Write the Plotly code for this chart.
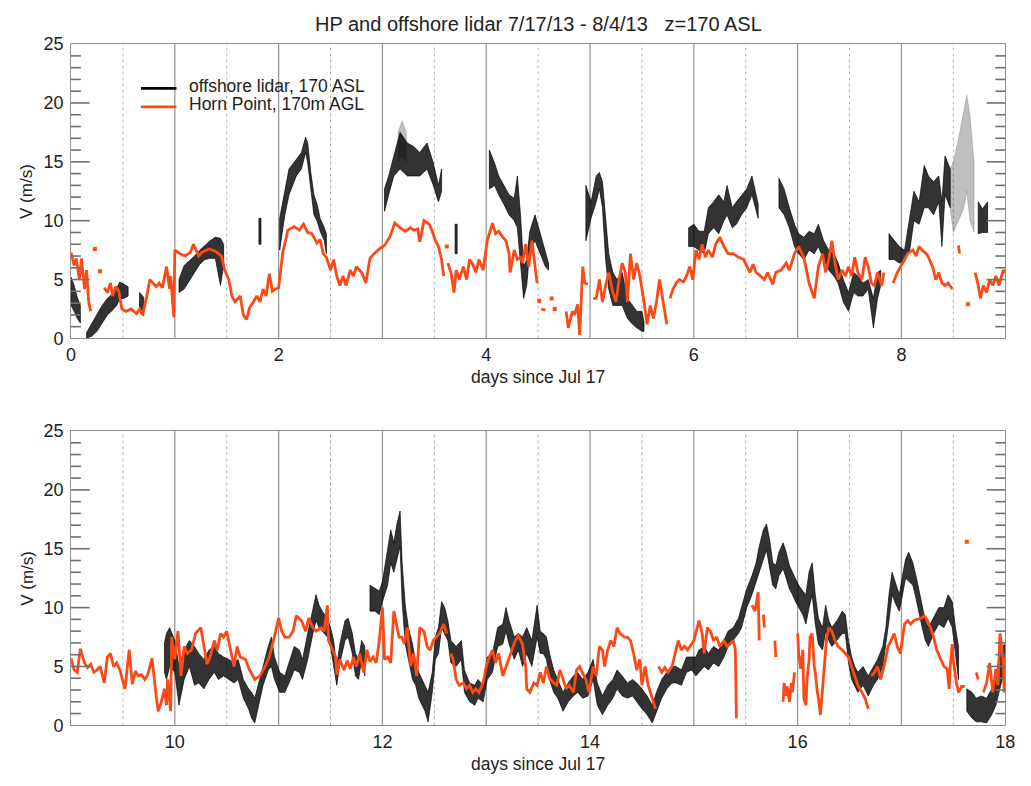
import plotly.graph_objects as go

# ---------------- Horn Point (170 m AGL), None = gap ----------------
hp_top_t = [
    0.00, 0.03, 0.05, 0.08, 0.10, 0.13, 0.15, 0.17, 0.19, None,
    0.32, 0.35, 0.38, 0.40, 0.43, 0.46, 0.49, 0.53, 0.58, 0.63,
    0.66, 0.69, 0.73, 0.76, 0.79, 0.82, 0.85, 0.88, 0.92, 0.95,
    0.96, 0.99, 1.00, 1.05, 1.10, 1.15, 1.18, 1.23, 1.26, 1.33,
    1.39, 1.45, 1.48, 1.52, 1.55, 1.58, 1.63, 1.66, 1.69, 1.72,
    1.75, 1.79, 1.82, 1.85, 1.88, 1.91, 1.94, 1.97, 2.00, 2.04,
    2.09, 2.15, 2.20, 2.24, 2.28, 2.32, 2.37, 2.40, 2.43, 2.46,
    2.50, 2.53, 2.56, 2.59, 2.62, 2.65, 2.69, 2.72, 2.75, 2.80,
    2.84, 2.88, 2.92, 2.97, 3.02, 3.07, 3.12, 3.17, 3.22, 3.27,
    3.30, 3.34, 3.36, 3.40, 3.45, 3.48, 3.51, 3.54, 3.57, 3.59, None,
    3.63, 3.66, 3.69, 3.71, 3.74, 3.78, 3.81, 3.84, 3.87, 3.90,
    3.93, 3.97, 4.01, 4.06, 4.09, 4.12, 4.16, 4.19, 4.22, 4.23,
    4.27, 4.30, 4.33, 4.35, 4.38, 4.41, 4.44, 4.47, 4.49, None,
    4.53, 4.57, None,
    4.77, 4.79, 4.83, 4.85, 4.88, 4.90, 4.93, 4.95, 4.98, None,
    5.03, 5.06, 5.09, 5.12, 5.15, 5.18, 5.22, 5.25, 5.28, 5.31,
    5.34, 5.36, 5.39, 5.42, 5.45, 5.48, 5.52, 5.55, 5.58, 5.61,
    5.64, 5.67, 5.71, 5.74, None,
    5.77, 5.80, 5.83, 5.86, 5.90, 5.93, 5.96, 5.99, 6.02, 6.05,
    6.08, 6.11, 6.14, 6.18, 6.21, 6.25, 6.29, 6.33, 6.38, 6.43,
    6.48, 6.51, 6.54, 6.57, 6.60, 6.63, 6.68, 6.71, 6.76, 6.79,
    6.84, 6.89, 6.92, 6.97, 7.01, 7.06, 7.11, 7.16, 7.20, 7.24,
    7.27, 7.30, 7.33, 7.36, 7.39, 7.43, 7.46, 7.49, 7.52, 7.55,
    7.58, 7.62, 7.65, 7.68, 7.71, 7.74, 7.77, 7.81, 7.83, None,
    7.92, 7.96, 8.01, 8.06, 8.11, 8.14, 8.17, 8.20, 8.25, 8.30,
    8.33, 8.36, 8.39, 8.42, 8.45, 8.49, None,
    8.55, 8.56, None,
    8.71, 8.74, 8.76, 8.79, 8.82, 8.85, 8.88, 8.91, 8.94, 8.98, 9.00,
]
hp_top_v = [
    7.3, 6.2, 6.8, 5.0, 6.8, 4.2, 5.8, 3.1, 2.3, None,
    4.3, 3.9, 4.7, 3.6, 4.4, 4.0, 2.5, 2.3, 2.5, 2.1,
    2.5, 2.0, 3.6, 5.0, 4.7, 4.4, 4.7, 4.3, 6.1, 4.2,
    5.3, 1.8, 7.5, 7.2, 7.0, 7.3, 8.0, 7.0, 7.3, 7.6,
    7.4, 7.0, 5.8, 5.0, 3.6, 3.1, 3.6, 2.0, 1.6, 2.6,
    3.0, 3.6, 3.1, 4.2, 3.6, 5.5, 4.0, 4.2, 4.3, 7.3,
    9.2, 9.5, 9.2, 9.7, 9.0, 8.9, 8.1, 8.4, 7.2, 6.9,
    5.8, 6.7, 5.3, 4.5, 5.3, 4.5, 5.8, 5.3, 6.1, 5.6,
    4.7, 6.8, 7.2, 7.6, 7.9, 8.6, 9.8, 9.4, 9.1, 9.4,
    9.2, 9.3, 8.2, 10.0, 9.7, 9.1, 8.3, 7.8, 6.7, 5.3, None,
    6.4, 5.6, 3.9, 5.8, 5.0, 6.1, 5.0, 6.7, 6.3, 5.6,
    6.7, 5.8, 8.3, 9.8, 8.9, 9.1, 8.6, 8.3, 7.2, 5.6,
    7.5, 6.7, 6.9, 6.4, 8.0, 6.1, 8.3, 5.8, 4.7, None,
    2.5, 2.4, None,
    2.3, 0.9, 2.3, 2.0, 2.9, 0.3, 6.1, 4.7, 4.6, None,
    3.4, 3.4, 5.0, 3.1, 4.5, 5.6, 3.9, 3.1, 5.0, 6.4,
    5.6, 3.1, 7.2, 5.0, 6.4, 5.3, 3.1, 1.2, 2.8, 1.7,
    3.1, 5.0, 2.8, 1.2, None,
    3.4, 4.2, 4.7, 5.0, 4.8, 5.3, 6.1, 5.0, 7.5, 6.7,
    8.0, 6.9, 7.5, 6.9, 8.0, 8.6, 7.8, 7.2, 7.2, 6.9,
    6.7, 6.1, 5.6, 6.3, 5.6, 5.4, 5.0, 5.6, 4.6, 5.6,
    5.8, 6.4, 5.8, 7.2, 7.8, 6.9, 4.7, 3.4, 6.1, 7.2,
    5.6, 6.7, 8.3, 6.4, 5.0, 5.8, 5.3, 6.1, 5.3, 6.9,
    5.6, 5.0, 6.9, 6.1, 4.7, 4.5, 5.6, 4.5, 5.6, None,
    4.7, 5.6, 6.4, 7.2, 7.5, 7.0, 7.8, 7.5, 7.1, 6.1,
    5.0, 5.6, 4.7, 4.5, 4.7, 4.2, None,
    7.9, 7.2, None,
    5.6, 4.5, 3.4, 4.5, 3.9, 5.0, 4.5, 5.3, 4.5, 5.8, 5.6,
]
hp_top_dot_t = [0.23, 0.28, 3.62, 4.51, 4.63, 4.66, 8.64]
hp_top_dot_v = [7.6, 5.7, 7.8, 3.2, 3.4, 2.5, 2.9]

hp_bot_t = [
    9.00, 9.03, 9.06, 9.09, 9.13, 9.16, 9.19, 9.22, 9.25, 9.28,
    9.32, 9.35, 9.38, 9.41, 9.44, 9.47, 9.52, 9.56, 9.59, 9.62,
    9.65, 9.68, 9.71, 9.74, 9.78, 9.80, 9.82, 9.84, 9.87, 9.90,
    9.92, 9.93, 9.96, 9.97, 10.00, 10.03, 10.06, 10.09, 10.12, 10.16,
    10.20, 10.25, 10.28, 10.31, 10.34, 10.38, 10.41, 10.44, 10.47, 10.50,
    10.53, 10.57, 10.60, 10.63, 10.68, 10.72, 10.77, 10.82, 10.87, 10.91,
    10.95, 10.98, 11.00, 11.03, 11.06, 11.10, 11.14, 11.17, 11.22, 11.26,
    11.29, 11.33, 11.36, 11.41, 11.44, 11.47, 11.48, 11.52, 11.55, 11.56,
    11.59, 11.63, 11.66, 11.69, 11.72, 11.75, 11.78, 11.82, 11.85, 11.88,
    11.91, 11.94, 11.97, 12.00, 12.02, 12.05, 12.08, 12.11, 12.14, 12.16,
    12.19, 12.21, 12.24, 12.27, 12.30, 12.33, 12.36, 12.40, 12.43, 12.46,
    12.49, 12.52, 12.55, 12.59, 12.62, None,
    12.66, 12.68, 12.71, 12.74, 12.78, 12.81, 12.84, 12.87, 12.90, 12.93,
    12.97, 13.00, 13.03, 13.06, 13.09, 13.12, 13.16, 13.19, 13.22, 13.25,
    13.28, 13.31, 13.35, 13.38, 13.39, 13.42, 13.46, 13.49, 13.52, 13.55,
    13.58, 13.61, 13.65, 13.68, 13.71, 13.74, 13.77, 13.80, 13.84, 13.87,
    13.90, 13.93, 13.96, 13.99, 14.03, 14.06, 14.09, 14.12, 14.14, 14.17,
    14.20, 14.23, 14.26, 14.29, 14.33, 14.36, 14.39, 14.42, 14.45, 14.48,
    14.50, 14.53, 14.56, 14.60, 14.63, None,
    14.66, 14.69, 14.72, 14.75, 14.79, 14.82, 14.85, 14.88, 14.91, 14.94,
    14.98, 15.00, 15.05, 15.08, 15.10, 15.13, 15.16, 15.19, 15.22, 15.25,
    15.29, 15.32, 15.35, 15.38, 15.40, 15.41, None,
    15.56, 15.59, 15.62, 15.63, None,
    15.67, 15.68, None,
    15.78, 15.79, None,
    15.86, 15.87, 15.89, 15.90, 15.92, 15.94, 15.95, 15.97, None,
    16.00, 16.01, 16.03, 16.05, 16.06, 16.08, 16.09, 16.11, 16.12, 16.14,
    16.16, 16.17, 16.19, 16.20, 16.22, 16.24, 16.25, 16.27, 16.28, 16.30,
    16.33, 16.36, 16.39, 16.43, 16.46, 16.49, 16.52, 16.55, 16.58, 16.62,
    16.65, 16.68, None,
    16.71, 16.74, 16.77, 16.80, 16.84, 16.87, 16.90, 16.93, 16.96, 16.99,
    17.03, 17.06, 17.09, 17.12, 17.15, 17.19, 17.22, 17.25, 17.28, 17.31,
    17.34, 17.37, 17.41, 17.44, 17.46, 17.47, 17.49, 17.50, 17.53, 17.55,
    17.58, 17.61, None,
    17.72, 17.74, None,
    17.79, 17.82, 17.85, 17.87, 17.88, 17.91, 17.93, 17.95, 17.98, 17.99, 18.00,
]
hp_bot_v = [
    5.7, 4.7, 4.5, 6.5, 5.3, 4.9, 5.2, 4.5, 4.7, 5.0,
    3.6, 5.8, 6.1, 5.0, 5.3, 4.7, 3.1, 6.4, 3.5, 4.6,
    4.2, 4.3, 3.9, 4.3, 5.7, 3.9, 2.5, 1.2, 2.0, 3.1,
    1.7, 3.9, 1.2, 7.5, 5.6, 8.0, 4.2, 6.7, 6.1, 6.4,
    7.8, 8.3, 6.9, 5.2, 5.8, 7.2, 6.4, 7.8, 7.5, 8.0,
    6.7, 5.0, 6.7, 5.8, 5.6, 4.7, 3.9, 4.2, 5.0, 5.8,
    7.2, 8.3, 9.1, 8.0, 7.5, 7.5, 8.0, 9.3, 8.9, 8.0,
    9.1, 8.3, 8.0, 8.3, 8.0, 10.2, 7.2, 6.4, 5.8, 4.3,
    5.6, 4.7, 5.5, 4.8, 5.8, 5.0, 6.1, 4.5, 6.4, 5.4,
    5.8, 5.3, 7.2, 10.0, 5.6, 5.8, 5.3, 9.7, 8.3, 7.5,
    7.5, 6.9, 8.3, 5.0, 6.1, 4.2, 8.3, 8.0, 6.7, 6.4,
    7.2, 7.5, 7.8, 8.6, 7.8, None,
    6.1, 5.6, 3.9, 3.4, 3.6, 3.1, 3.4, 2.8, 3.1, 2.8,
    3.6, 5.0, 5.8, 6.4, 5.3, 6.1, 4.2, 5.0, 5.6, 6.4,
    7.2, 7.6, 6.9, 5.0, 3.1, 2.8, 3.6, 3.4, 4.5, 3.6,
    5.0, 4.0, 3.6, 3.4, 4.7, 3.9, 3.1, 3.4, 2.8, 4.7,
    5.0, 4.4, 3.9, 2.8, 5.0, 4.2, 6.7, 6.4, 5.0, 6.4,
    7.2, 6.7, 8.3, 7.8, 7.5, 7.5, 7.2, 6.1, 4.7, 5.6,
    3.4, 5.0, 3.4, 2.3, 1.4, None,
    5.0, 4.5, 4.9, 4.5, 5.0, 6.1, 7.2, 6.4, 6.7, 6.4,
    6.9, 7.2, 8.9, 7.8, 6.1, 8.3, 8.0, 7.2, 7.5, 6.7,
    7.2, 6.7, 6.9, 7.2, 6.4, 0.6, None,
    10.2, 9.7, 11.3, 7.2, None,
    9.4, 8.3, None,
    7.2, 5.8, None,
    2.0, 3.6, 2.5, 3.3, 2.0, 3.6, 2.8, 4.5, None,
    7.8, 6.1, 4.8, 6.4, 2.3, 1.7, 3.9, 5.5, 7.5, 7.8,
    5.0, 4.5, 2.8, 2.3, 0.9, 3.1, 3.9, 6.1, 7.5, 8.3,
    8.0, 7.2, 6.7, 6.4, 6.1, 5.8, 5.0, 4.2, 3.4, 2.8,
    2.3, 1.4, None,
    4.2, 4.5, 5.0, 3.9, 5.3, 6.7, 7.2, 7.8, 6.7, 6.1,
    8.6, 8.9, 8.6, 8.9, 9.0, 9.1, 9.3, 8.9, 8.3, 7.5,
    6.4, 5.8, 5.0, 4.8, 3.1, 5.0, 6.9, 5.5, 3.6, 2.8,
    3.3, 3.3, None,
    4.5, 3.9, None,
    2.8, 3.6, 5.3, 3.9, 2.8, 4.8, 3.4, 7.8, 5.6, 2.8, 5.8,
]
hp_bot_dot_t = [17.63]
hp_bot_dot_v = [15.6]

# ---------------- offshore lidar (170 ASL): dense point cloud, low / high envelope ----------------
lid_top_t = [
    0.00, 0.03, 0.06, 0.09, None,
    0.15, 0.20, 0.25, 0.30, 0.35, 0.40, 0.44, 0.47, 0.51, 0.55, None,
    0.66, 0.70, None,
    1.04, 1.09, 1.14, 1.19, 1.24, 1.29, 1.34, 1.39, 1.44, 1.47, None,
    1.81, 1.83, None,
    2.01, 2.06, 2.10, 2.17, 2.22, 2.26, 2.28, 2.31, 2.34, 2.37, 2.40, 2.44, 2.46, None,
    3.02, 3.06, 3.11, 3.17, 3.24, 3.30, 3.36, 3.43, 3.49, 3.54, 3.57, None,
    3.70, 3.72, None,
    4.03, 4.08, 4.12, 4.17, 4.22, 4.27, 4.30, 4.33, 4.36, 4.39, 4.42, 4.47, 4.52, 4.57, 4.60, None,
    4.96, 5.01, 5.06, 5.09, 5.12, 5.15, 5.18, 5.22, 5.26, 5.31, 5.36, 5.41, 5.45, 5.50, 5.52, None,
    5.95, 6.00, 6.05, 6.10, 6.14, 6.19, 6.24, 6.29, 6.32, 6.37, 6.41, 6.46, 6.51, 6.56, 6.59, 6.62, None,
    6.82, 6.87, 6.92, 6.97, 7.01, 7.06, 7.11, 7.16, 7.20, 7.25, 7.30, 7.35, 7.39, 7.44, 7.49,
    7.54, 7.58, 7.63, 7.68, 7.73, 7.77, 7.80, None,
    7.88, 7.93, 7.98, 8.03, 8.08, 8.12, 8.17, 8.22, 8.26, 8.31, 8.36, 8.39, 8.42, 8.47, None,
    8.74, 8.78, 8.83,
]
lid_top_lo = [
    2.8, 2.3, 1.7, 1.3, None,
    0.0, 0.2, 0.6, 1.3, 2.0, 2.4, 2.8, 3.4, 3.4, 3.6, None,
    2.3, 1.9, None,
    3.9, 4.2, 5.0, 5.6, 6.3, 6.7, 6.8, 6.8, 4.5, 6.2, None,
    8.0, 8.0, None,
    7.5, 10.5, 12.2, 13.8, 14.4, 15.8, 14.9, 12.7, 10.5, 10.0, 9.1, 8.3, 7.2, None,
    10.8, 12.2, 13.8, 14.4, 13.8, 13.8, 13.8, 14.4, 13.0, 11.6, 12.5, None,
    7.2, 7.2, None,
    12.7, 13.0, 12.2, 11.4, 10.5, 10.0, 9.4, 6.7, 3.4, 4.5, 7.5, 8.3, 7.2, 6.1, 5.8, None,
    8.3, 10.2, 11.6, 12.7, 11.1, 6.7, 4.2, 2.8, 2.8, 2.8, 1.7, 1.2, 0.9, 0.6, 0.6, None,
    7.8, 7.8, 7.5, 7.2, 8.9, 9.4, 8.9, 10.0, 10.5, 9.4, 9.7, 10.5, 11.1, 12.2, 11.1, 10.2, None,
    11.1, 10.5, 9.4, 7.8, 7.2, 6.7, 7.5, 7.2, 7.8, 6.7, 5.8, 5.3, 4.7, 3.1, 2.3,
    3.9, 3.6, 3.6, 4.2, 0.9, 3.4, 4.5, None,
    6.7, 6.7, 6.4, 6.5, 7.5, 10.0, 9.7, 11.1, 11.1, 10.5, 11.6, 7.8, 12.2, 11.1, None,
    8.9, 9.0, 9.0,
]
lid_top_hi = [
    5.2, 4.5, 3.5, 2.8, None,
    0.5, 1.3, 2.0, 2.8, 3.4, 3.8, 4.3, 4.8, 4.6, 4.4, None,
    3.9, 3.5, None,
    5.0, 6.2, 6.6, 7.0, 7.5, 7.9, 8.3, 8.6, 8.5, 8.0, None,
    10.2, 10.2, None,
    10.2, 12.7, 14.4, 15.2, 15.8, 17.1, 16.6, 14.1, 12.2, 11.4, 10.2, 9.4, 8.9, None,
    12.7, 13.8, 15.5, 17.5, 16.6, 16.3, 15.8, 16.6, 14.9, 13.0, 14.4, None,
    9.7, 9.7, None,
    16.0, 14.9, 13.8, 13.0, 12.2, 11.9, 13.8, 10.5, 6.1, 6.7, 9.1, 10.5, 8.9, 7.2, 6.4, None,
    13.0, 11.6, 13.8, 14.1, 13.3, 10.5, 7.2, 5.6, 5.0, 5.6, 3.4, 2.8, 2.3, 2.3, 1.4, None,
    9.4, 9.7, 9.1, 9.1, 11.1, 11.6, 12.2, 11.6, 13.0, 11.1, 11.6, 12.2, 12.7, 13.8, 12.7, 11.4, None,
    13.6, 12.7, 11.1, 9.7, 8.9, 8.6, 9.1, 8.9, 9.7, 8.3, 7.5, 7.2, 6.4, 5.0, 3.9,
    5.6, 5.3, 4.7, 5.0, 3.4, 5.6, 5.8, None,
    8.9, 8.3, 7.8, 7.5, 10.5, 12.5, 11.6, 14.7, 13.8, 13.3, 13.8, 11.6, 15.5, 14.4, None,
    11.6, 11.0, 11.6,
]
# scattered (sparse) lidar returns
lid_top_sp_t = [3.15, 3.19, 3.23, None, 8.47, 8.50, 8.55, 8.60, 8.63, 8.66, 8.70]
lid_top_sp_lo = [15.0, 15.5, 15.0, None, 11.0, 9.0, 10.0, 11.0, 12.5, 10.0, 9.0]
lid_top_sp_hi = [17.5, 18.5, 17.5, None, 14.4, 15.0, 17.0, 19.5, 20.7, 19.0, 15.0]

lid_bot_t = [
    9.90, 9.92, 9.95, 10.00, 10.04, 10.09, 10.14, 10.19, 10.23, 10.28,
    10.33, 10.38, 10.42, 10.47, 10.52, 10.57, 10.61, 10.66, 10.71, 10.74,
    10.77, 10.80, 10.85, 10.90, 10.93, 10.96, 11.01, 11.06, 11.10, 11.15,
    11.20, 11.23, 11.28, 11.33, 11.36, 11.39, 11.42, 11.47, 11.50, 11.53,
    11.56, 11.59, 11.64, 11.67, 11.71, 11.74, 11.77, 11.80, 11.83, None,
    11.88, 11.93, 11.97, 12.00, 12.05, 12.08, 12.11, 12.14, 12.17, 12.19,
    12.22, 12.25, 12.29, 12.32, 12.35, 12.38, 12.41, 12.44, 12.48, 12.51,
    12.54, 12.57, 12.60, 12.63, 12.66, 12.71, 12.76, 12.79, 12.84, 12.89,
    12.92, 12.97, 13.01, 13.06, 13.11, 13.16, 13.19, 13.22, 13.27, 13.31,
    13.35, 13.39, 13.44, 13.49, 13.52, 13.55, 13.58, 13.61, 13.65, 13.69,
    13.74, 13.79, 13.84, 13.88, 13.93, 13.98, 14.03, 14.07, 14.12, 14.17,
    14.22, 14.26, 14.31, 14.36, 14.41, 14.45, 14.50, 14.55, 14.60, 14.64,
    14.69, 14.74, 14.79, 14.83, 14.88, 14.93, 14.98, 15.02, 15.05, 15.10,
    15.14, 15.19, 15.24, 15.29, 15.33, 15.38, 15.43, 15.46, 15.51, 15.56,
    15.60, 15.63, 15.67, 15.70, 15.73, 15.76, 15.79, 15.82, 15.86, 15.89,
    15.92, 15.95, 15.98, 16.01, 16.05, 16.08, 16.11, 16.14, 16.17, 16.20,
    16.24, 16.27, 16.30, 16.33, 16.38, 16.43, 16.46, 16.49, 16.52, 16.55,
    16.58, 16.63, 16.68, 16.73, 16.77, 16.82, 16.85, 16.88, 16.91, 16.95,
    16.98, 17.01, 17.04, 17.07, 17.11, 17.14, 17.17, 17.20, 17.23, 17.26,
    17.31, 17.36, 17.41, 17.45, 17.49, 17.52, 17.55, None,
    17.63, 17.68, 17.72, 17.77, 17.82, 17.87, 17.91, 17.94, 17.97, 18.00,
]
lid_bot_lo = [
    4.5, 3.9, 5.0, 4.5, 1.7, 3.9, 5.0, 3.4, 3.6, 3.1,
    3.9, 4.5, 3.9, 4.2, 3.9, 3.6, 3.9, 2.3, 1.4, 0.6,
    0.2, 1.4, 3.4, 4.7, 5.0, 3.9, 2.8, 2.8, 3.6, 4.7,
    4.5, 3.9, 5.6, 7.8, 8.9, 8.3, 8.0, 7.5, 6.7, 5.0,
    3.4, 5.3, 7.2, 7.5, 6.1, 4.2, 3.9, 5.6, 4.2, None,
    9.7, 9.7, 9.4, 10.5, 11.9, 13.8, 13.0, 14.1, 15.2, 10.5,
    6.9, 5.6, 3.9, 3.4, 2.3, 1.7, 1.2, 0.3, 2.8, 5.6,
    6.1, 8.3, 7.8, 7.2, 5.3, 5.0, 5.6, 2.8, 2.0, 1.7,
    2.3, 2.0, 3.9, 4.5, 6.7, 6.9, 8.0, 6.9, 5.6, 6.4,
    5.0, 6.1, 5.0, 7.5, 6.1, 6.1, 5.6, 3.9, 2.8, 2.3,
    1.2, 2.0, 2.5, 2.8, 2.3, 2.5, 3.9, 1.7, 0.9, 1.7,
    2.3, 3.1, 2.5, 2.3, 2.5, 2.0, 1.4, 0.9, 0.2, 1.2,
    2.3, 3.1, 3.6, 3.6, 3.4, 4.5, 4.7, 4.2, 4.5, 5.0,
    4.7, 5.3, 5.0, 5.8, 6.7, 7.2, 7.8, 8.3, 10.0, 11.1,
    12.2, 13.0, 14.1, 14.9, 13.3, 11.9, 11.6, 12.7, 13.3, 12.5,
    11.6, 11.1, 10.5, 10.0, 9.4, 8.6, 10.0, 11.1, 8.6, 6.9,
    6.4, 8.0, 7.2, 6.7, 7.2, 7.8, 7.8, 5.3, 3.9, 3.4,
    2.8, 3.4, 2.5, 3.4, 3.9, 5.0, 6.7, 8.9, 11.1, 10.2,
    9.7, 11.1, 12.5, 12.2, 11.9, 10.8, 9.7, 8.3, 7.2, 6.7,
    7.8, 8.6, 8.3, 9.1, 8.3, 6.1, 3.9, None,
    1.2, 0.6, 0.3, 0.3, 0.2, 0.9, 1.7, 2.8, 3.9, 4.5,
]
lid_bot_hi = [
    7.0, 7.8, 8.3, 7.2, 5.0, 6.4, 7.2, 6.7, 6.1, 5.6,
    6.4, 6.7, 6.1, 5.8, 5.6, 5.3, 5.6, 3.9, 3.1, 2.8,
    2.3, 3.4, 5.0, 6.7, 7.5, 5.8, 4.5, 4.2, 5.3, 6.7,
    6.4, 5.6, 7.8, 10.0, 11.1, 10.2, 9.7, 9.1, 8.3, 7.2,
    5.0, 6.9, 8.9, 9.1, 7.8, 6.1, 5.6, 7.2, 6.7, None,
    11.9, 11.6, 11.4, 12.2, 14.9, 16.6, 15.5, 17.1, 18.2, 13.8,
    10.2, 8.3, 6.9, 5.3, 4.5, 3.9, 3.4, 2.8, 4.5, 7.5,
    8.3, 10.5, 10.0, 8.9, 7.2, 6.7, 7.2, 4.7, 3.6, 3.4,
    3.9, 3.4, 5.8, 6.1, 8.3, 8.6, 10.0, 8.9, 7.5, 7.8,
    7.5, 8.3, 7.2, 10.2, 8.0, 7.8, 7.5, 6.1, 4.7, 3.9,
    2.8, 3.6, 4.2, 4.5, 3.9, 4.5, 5.6, 3.6, 2.5, 3.4,
    3.9, 4.7, 4.2, 3.6, 3.9, 3.6, 3.1, 2.5, 1.7, 2.8,
    3.9, 4.5, 5.0, 5.0, 4.7, 5.8, 5.8, 5.8, 6.4, 6.7,
    6.1, 6.7, 6.4, 7.2, 8.0, 8.3, 9.1, 10.0, 11.6, 12.7,
    13.8, 15.2, 16.6, 17.1, 15.8, 13.8, 13.6, 14.7, 15.5, 14.7,
    13.6, 13.0, 12.5, 11.9, 11.4, 11.1, 13.0, 13.8, 11.1, 9.1,
    8.3, 10.2, 8.9, 8.3, 8.9, 9.7, 9.4, 7.2, 5.8, 5.0,
    4.5, 5.0, 4.2, 5.0, 5.6, 6.7, 8.3, 11.1, 13.0, 11.9,
    11.1, 12.7, 14.1, 14.7, 13.8, 12.7, 11.4, 10.0, 8.9, 8.3,
    9.1, 10.0, 10.0, 11.1, 10.5, 8.3, 6.7, None,
    3.1, 2.8, 2.3, 2.5, 2.3, 3.1, 3.9, 5.8, 6.7, 6.9,
]

# ---------------- text / ticks ----------------
title_text = "HP and offshore lidar 7/17/13 - 8/4/13\u00a0\u00a0\u00a0z=170 ASL"
x_title = "days since Jul 17"
y_title = "V (m/s)"
legend_names = ["offshore lidar, 170 ASL", "Horn Point, 170m AGL"]
top_xticks = [0, 2, 4, 6, 8]
bot_xticks = [10, 12, 14, 16, 18]
y_major = [0, 5, 10, 15, 20, 25]
y_minor = [v for v in range(26) if v % 5]

for a, b in [(hp_top_t, hp_top_v), (hp_bot_t, hp_bot_v)]:
    assert len(a) == len(b), (len(a), len(b))
for a, b, c in [(lid_top_t, lid_top_lo, lid_top_hi), (lid_bot_t, lid_bot_lo, lid_bot_hi),
                (lid_top_sp_t, lid_top_sp_lo, lid_top_sp_hi)]:
    assert len(a) == len(b) == len(c), (len(a), len(b), len(c))

ORANGE = "#fb4a17"
FONT = "Liberation Sans, Arial, Helvetica, sans-serif"
AXC = "#8f8f8f"
TICKC = "#707070"
W, H = 1031, 786
X0_PX, X1_PX = 67, 1015
PANEL_PX = [(35, 337), (432, 734)]   # top / bottom pixel rows of each plot frame


def envelope(t, lo, hi):
    """closed polygons (one per segment) around the lidar point cloud"""
    xs, ys = [], []
    st, sl, sh = [], [], []
    for a, b, c in list(zip(t, lo, hi)) + [(None, None, None)]:
        if a is None:
            if st:
                xs += st + st[::-1] + [st[0], None]
                ys += sh + sl[::-1] + [sh[0], None]
            st, sl, sh = [], [], []
        else:
            st.append(a); sl.append(b); sh.append(c)
    return xs, ys


fig = go.Figure()

panels = [
    ("x", "y", lid_top_t, lid_top_lo, lid_top_hi, hp_top_t, hp_top_v, hp_top_dot_t, hp_top_dot_v),
    ("x2", "y2", lid_bot_t, lid_bot_lo, lid_bot_hi, hp_bot_t, hp_bot_v, hp_bot_dot_t, hp_bot_dot_v),
]
for xa, ya, lt, llo, lhi, ht, hv, dt, dv in panels:
    ex, ey = envelope(lt, llo, lhi)
    fig.add_trace(go.Scatter(x=ex, y=ey, xaxis=xa, yaxis=ya, mode="lines", fill="toself",
                             fillcolor="rgba(0,0,0,0.8)",
                             line=dict(color="rgba(0,0,0,0.85)", width=0.8),
                             hoverinfo="skip", showlegend=False))
    if xa == "x":
        sx, sy = envelope(lid_top_sp_t, lid_top_sp_lo, lid_top_sp_hi)
        fig.add_trace(go.Scatter(x=sx, y=sy, xaxis=xa, yaxis=ya, mode="lines", fill="toself",
                                 fillcolor="rgba(0,0,0,0.25)",
                                 line=dict(color="rgba(0,0,0,0.3)", width=0.5),
                                 hoverinfo="skip", showlegend=False))
    fig.add_trace(go.Scatter(x=ht, y=hv, xaxis=xa, yaxis=ya, mode="lines",
                             line=dict(color=ORANGE, width=2.8), connectgaps=False,
                             showlegend=False))
    fig.add_trace(go.Scatter(x=dt, y=dv, xaxis=xa, yaxis=ya, mode="markers",
                             marker=dict(color=ORANGE, size=4, symbol="square"),
                             showlegend=False))

shapes = []
# day (solid) and half-day (dotted) guide lines
for xa, ya, lo_day in [("x", "y", 0), ("x2", "y2", 9)]:
    for k in range(1, 18):
        d = lo_day + k * 0.5
        solid = (d == int(d))
        shapes.append(dict(type="line", xref=xa, yref=ya + " domain", x0=d, x1=d, y0=0, y1=1,
                           line=dict(color="#9a9a9a" if solid else "#b4b4b4",
                                     width=1.3 if solid else 1.0,
                                     dash="solid" if solid else "dot"),
                           layer="below"))

# inward y-axis tick marks on both sides (major 19 px, minor 10 px), in paper coordinates
for top_px, bot_px in PANEL_PX:
    for vals, ln in [(y_major[1:-1], 19), (y_minor, 10)]:
        for v in vals:
            ypx = bot_px - (bot_px - top_px) * v / 25.0
            yp = 1 - ypx / H
            for xa_px, xb_px in [(X0_PX, X0_PX + ln), (X1_PX - ln, X1_PX)]:
                shapes.append(dict(type="line", xref="paper", yref="paper",
                                   x0=xa_px / W, x1=xb_px / W, y0=yp, y1=yp,
                                   line=dict(color=TICKC, width=1.6), layer="above"))

# legend drawn by hand (lines + labels)
leg_y_line = [1 - 80.5 / H, 1 - 99.5 / H]
leg_y_text = [1 - 78.0 / H, 1 - 96.5 / H]
for col, yl in zip(["black", ORANGE], leg_y_line):
    shapes.append(dict(type="line", xref="paper", yref="paper", x0=138 / W, x1=174 / W,
                       y0=yl, y1=yl, line=dict(color=col, width=2.8)))

annotations = [
    dict(text=title_text, x=541 / W, y=1 - 14 / H, xref="paper", yref="paper",
         xanchor="center", yanchor="middle", showarrow=False,
         font=dict(size=20, color="#222", family=FONT)),
]
for name, yt in zip(legend_names, leg_y_text):
    annotations.append(dict(text=name, x=185 / W, y=yt, xref="paper", yref="paper",
                            xanchor="left", yanchor="middle", showarrow=False,
                            font=dict(size=17.5, color="#222", family=FONT)))
for ty, xy in [(1 - 186 / H, 1 - 377 / H), (1 - 583 / H, 1 - 774 / H)]:
    annotations.append(dict(text=y_title, x=22 / W, y=ty, xref="paper", yref="paper",
                            xanchor="center", yanchor="middle", textangle=-90, showarrow=False,
                            font=dict(size=17, color="#222", family=FONT)))
    annotations.append(dict(text=x_title, x=541 / W, y=xy, xref="paper", yref="paper",
                            xanchor="center", yanchor="middle", showarrow=False,
                            font=dict(size=17.5, color="#222", family=FONT)))

xdom = [X0_PX / W, X1_PX / W]
ax_common = dict(showgrid=False, zeroline=False, showline=True, linecolor=AXC,
                 linewidth=1, mirror=True, ticks="",
                 tickfont=dict(size=18, color="#222", family=FONT))
y_common = dict(range=[0, 25], tickmode="array", tickvals=y_major,
                showgrid=False, zeroline=False,
                showline=True, linecolor=AXC, linewidth=1, mirror=True,
                ticks="", ticklabelstandoff=3,
                tickfont=dict(size=18, color="#222", family=FONT))

fig.update_layout(
    width=W, height=H,
    margin=dict(l=0, r=0, t=0, b=0),
    paper_bgcolor="white", plot_bgcolor="white",
    showlegend=False,
    font=dict(family=FONT, color="#222"),
    xaxis=dict(domain=xdom, range=[0, 9], tickmode="array", tickvals=top_xticks,
               anchor="y", **ax_common),
    yaxis=dict(domain=[1 - PANEL_PX[0][1] / H, 1 - PANEL_PX[0][0] / H], anchor="x", **y_common),
    xaxis2=dict(domain=xdom, range=[9, 18], tickmode="array", tickvals=bot_xticks,
                anchor="y2", **ax_common),
    yaxis2=dict(domain=[1 - PANEL_PX[1][1] / H, 1 - PANEL_PX[1][0] / H], anchor="x2", **y_common),
    shapes=shapes,
    annotations=annotations,
)

fig.write_html("out.html")
